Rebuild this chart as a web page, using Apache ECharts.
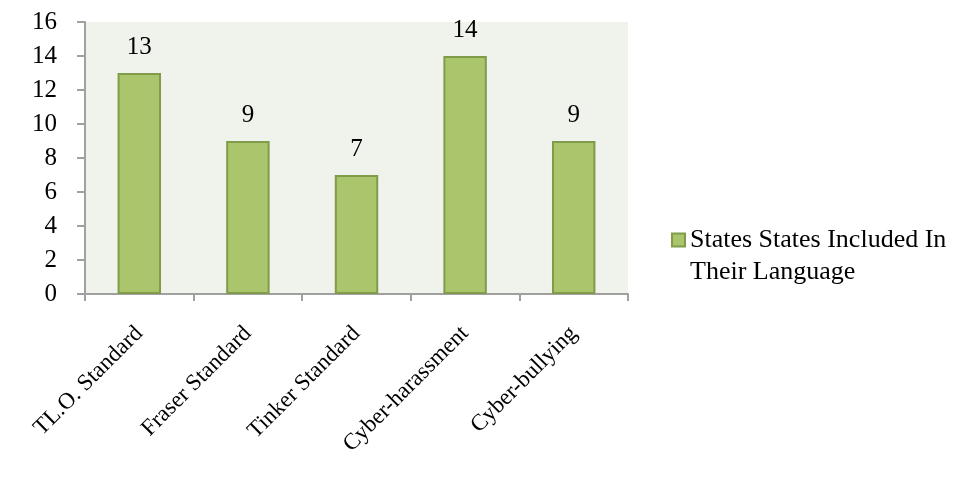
<!DOCTYPE html>
<html>
<head>
<meta charset="utf-8">
<script src="https://cdn.jsdelivr.net/npm/echarts@6/dist/echarts.min.js"></script>
<style>
html,body{margin:0;padding:0;background:#fff;}
#chart{width:971px;height:481px;}
</style>
</head>
<body>
<div id="chart"></div>
<script>
var categories = ["TL.O. Standard", "Fraser Standard", "Tinker Standard", "Cyber-harassment", "Cyber-bullying"];
var values = [13, 9, 7, 14, 9];
var seriesName = "States States Included In Their Language";
var yTicks = [0, 2, 4, 6, 8, 10, 12, 14, 16];

var FONT = "Liberation Serif";
var chart = echarts.init(document.getElementById('chart'), null, {renderer: 'canvas'});
chart.setOption({
  animation: false,
  backgroundColor: '#ffffff',
  grid: {left: 85, top: 22, right: 343, bottom: 187, show: true, backgroundColor: '#f0f3eb', borderWidth: 0},
  legend: {
    show: true,
    orient: 'vertical',
    left: 671,
    top: 192,
    padding: 0,
    itemWidth: 13,
    itemHeight: 13,
    itemGap: 5,
    icon: 'rect',
    formatter: function (n) { return '\n' + n.replace(' In ', ' In\n'); },
    textStyle: {fontFamily: FONT, fontSize: 26, color: '#000', lineHeight: 32},
    data: [seriesName]
  },
  xAxis: {
    type: 'category',
    data: categories,
    axisLine: {show: true, lineStyle: {color: '#a0a0a0', width: 2}},
    axisTick: {show: true, alignWithLabel: false, length: 7, lineStyle: {color: '#a0a0a0', width: 2}},
    axisLabel: {rotate: 45, interval: 0, margin: 36, fontFamily: FONT, fontSize: 23, color: '#000'},
    splitLine: {show: false}
  },
  yAxis: {
    type: 'value',
    min: yTicks[0],
    max: yTicks[yTicks.length - 1],
    interval: 2,
    axisLine: {show: true, lineStyle: {color: '#a0a0a0', width: 2}},
    axisTick: {show: true, length: 8, lineStyle: {color: '#a0a0a0', width: 2}},
    axisLabel: {margin: 28, fontFamily: FONT, fontSize: 25, color: '#000'},
    splitLine: {show: false}
  },
  series: [{
    name: seriesName,
    type: 'bar',
    data: values,
    barWidth: '40%',
    itemStyle: {color: '#aac56c', borderColor: '#809c4a', borderWidth: 2},
    label: {show: true, position: 'top', distance: 13, fontFamily: FONT, fontSize: 25, color: '#000'}
  }]
});
</script>
</body>
</html>
